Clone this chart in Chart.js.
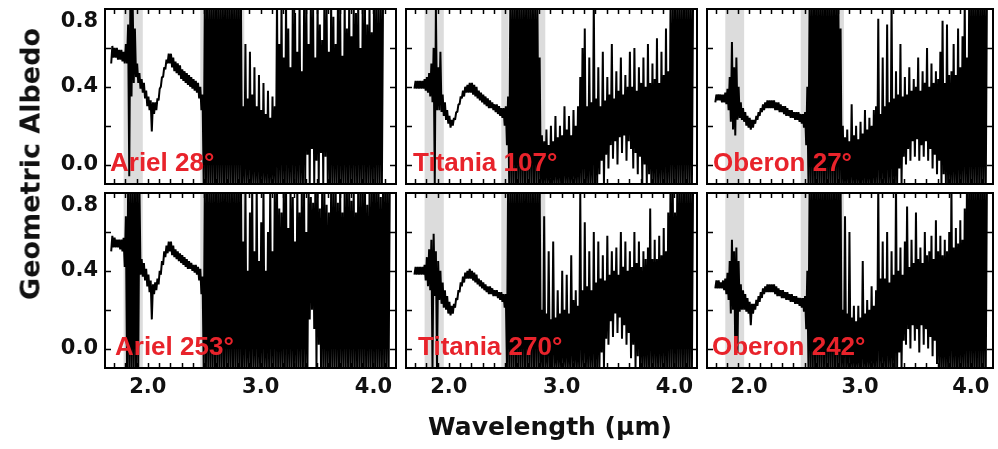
<!DOCTYPE html>
<html>
<head>
<meta charset="utf-8">
<script src="https://cdn.jsdelivr.net/npm/chart.js@4.4.1/dist/chart.umd.min.js"></script>
<style>
  html, body { margin: 0; padding: 0; background: #fff; }
  #figure { position: relative; width: 998px; height: 449px; overflow: hidden; background: #fff; }
  #figure canvas { position: absolute; left: 0; top: 0; }
  .axis-title { position: absolute; font-family: "DejaVu Sans", sans-serif; font-weight: bold; color: #111; white-space: nowrap; line-height: 1; }
  #ytitle { left: 30px; top: 164px; font-size: 27px; transform: translate(-50%, -50%) rotate(-90deg); }
  #xtitle { left: 550px; top: 426px; font-size: 25px; transform: translate(-50%, -50%); }
</style>
</head>
<body>
<div id="figure">
  <canvas id="p0" width="998" height="449"></canvas>
  <canvas id="p1" width="998" height="449"></canvas>
  <canvas id="p2" width="998" height="449"></canvas>
  <canvas id="p3" width="998" height="449"></canvas>
  <canvas id="p4" width="998" height="449"></canvas>
  <canvas id="p5" width="998" height="449"></canvas>
  <div class="axis-title" id="ytitle">Geometric Albedo</div>
  <div class="axis-title" id="xtitle">Wavelength (µm)</div>
</div>
<script>
// Spectral sampling: 0.02 µm bins from 1.62 to 4.20 µm (130 bins).
// For every bin the trace spans from LO to HI (geometric albedo); null = no data.
const WAVE_START = 1.62;
const WAVE_STEP = 0.02;
const WAVE_COUNT = 130;
const WAVE = Array.from({ length: WAVE_COUNT }, (_, i) => +(WAVE_START + i * WAVE_STEP).toFixed(2));

const _ = null;

// ---- Ariel, 28° ----
const ARIEL28_LO = [
  _,_,_,.52,.55,.55,.54,.54,.53,.52,
  .52,-.06,.35,.42,.45,.42,.39,.37,.34,.30,
  .28,.17,.26,.28,.33,.40,.45,.49,.52,.52,
  .50,.48,.47,.46,.44,.43,.42,.41,.40,.39,
  .38,.37,.34,.28,-.1,-.1,-.1,-.1,-.1,-.1,
  -.1,-.1,-.1,-.1,-.1,-.1,-.1,-.1,-.1,-.1,
  -.1,-.1,-.1,-.1,-.1,-.1,-.1,-.1,-.1,-.1,
  -.1,-.1,-.1,-.1,-.1,-.1,-.1,-.1,-.1,-.1,
  -.1,-.1,-.1,-.1,-.1,-.1,-.1,-.1,-.1,-.1,
  .05,-.1,.08,-.1,.02,-.1,.06,-.1,.04,-.1,
  -.1,-.1,-.1,-.1,-.1,-.1,-.1,-.1,-.1,-.1,
  -.1,-.1,-.1,-.1,-.1,-.1,-.1,-.1,-.1,-.1,
  -.1,-.1,-.1,-.1,_,_,_,_,_,_
];
const ARIEL28_HI = [
  _,_,_,.61,.60,.60,.59,.59,.58,.62,
  .72,.85,.85,.70,.52,.47,.44,.42,.38,.35,
  .33,.32,.32,.34,.39,.45,.50,.54,.57,.57,
  .55,.53,.52,.51,.49,.48,.47,.46,.45,.44,
  .43,.42,.40,.36,.85,.85,.85,.85,.85,.85,
  .85,.85,.85,.85,.85,.85,.85,.85,.85,.85,
  .85,.30,.62,.34,.58,.36,.50,.30,.46,.28,
  .42,.26,.38,.24,.35,.30,.85,.62,.85,.55,
  .85,.70,.50,.85,.78,.58,.85,.48,.80,.85,
  .62,.85,.80,.55,.85,.72,.64,.85,.80,.58,
  .85,.76,.62,.85,.82,.56,.85,.70,.85,.66,
  .85,.78,.85,.60,.85,.80,.72,.85,.68,.85,
  .85,.80,.85,.85,_,_,_,_,_,_
];

// ---- Titania, 107° ----
const TITANIA107_LO = [
  _,_,_,_,.39,.39,.39,.39,.39,.38,
  .37,.35,.32,-.1,.28,.28,.27,.25,.23,.21,
  .19,.20,.23,.27,.31,.34,.35,.37,.37,.37,
  .36,.35,.34,.33,.32,.31,.30,.29,.29,.28,
  .27,.26,.25,.24,.20,.10,-.1,-.1,-.1,-.1,
  -.1,-.1,-.1,-.1,-.1,-.1,-.1,-.1,-.1,-.1,
  -.1,-.1,-.1,-.1,-.1,-.1,-.1,-.1,-.1,-.1,
  -.1,-.1,-.1,-.1,-.1,-.1,-.1,-.1,-.1,-.1,
  -.1,-.1,-.1,-.1,-.1,-.1,-.05,.02,-.1,.05,
  -.02,.10,.03,.12,.00,.14,.06,.15,.02,.12,
  .08,-.02,.06,-.05,.04,-.1,.00,-.1,-.05,-.1,
  -.1,-.1,-.1,-.1,-.1,-.1,-.1,-.1,-.1,-.1,
  -.1,-.1,-.1,-.1,-.1,-.1,-.1,-.1,_,_
];
const TITANIA107_HI = [
  _,_,_,_,.43,.43,.43,.43,.44,.45,
  .47,.52,.60,.80,.50,.58,.36,.32,.28,.25,
  .23,.24,.27,.31,.35,.38,.40,.41,.42,.42,
  .41,.40,.38,.37,.36,.35,.34,.33,.32,.31,
  .31,.30,.29,.29,.30,.35,.85,.85,.85,.85,
  .85,.85,.85,.85,.85,.85,.85,.85,.85,.55,
  .15,.12,.18,.10,.20,.12,.25,.14,.20,.15,
  .30,.18,.25,.15,.28,.20,.30,.45,.60,.70,
  .30,.55,.32,.85,.34,.50,.30,.58,.33,.45,
  .36,.62,.34,.48,.38,.55,.36,.46,.40,.58,
  .40,.60,.38,.50,.42,.55,.40,.62,.42,.52,
  .44,.65,.42,.58,.46,.70,.48,.80,.85,.85,
  .85,.85,.85,.85,.85,.85,.85,.85,_,_
];

// ---- Oberon, 27° ----
const OBERON27_LO = [
  _,_,_,_,.32,.33,.33,.32,.32,.31,
  .28,.22,.18,.15,.23,.24,.23,.22,.20,.19,
  .18,.19,.21,.23,.25,.27,.28,.29,.29,.29,
  .29,.28,.28,.27,.27,.26,.25,.25,.24,.24,
  .23,.23,.22,.21,.19,.10,-.1,-.1,-.1,-.1,
  -.1,-.1,-.1,-.1,-.1,-.1,-.1,-.1,-.1,-.1,
  -.1,-.1,-.1,-.1,-.1,-.1,-.1,-.1,-.1,-.1,
  -.1,-.1,-.1,-.1,-.1,-.1,-.1,-.1,-.1,-.1,
  -.1,-.1,-.1,-.1,-.1,-.1,-.1,-.02,-.1,.04,
  .00,.08,.02,.12,.04,.13,.02,.10,.04,.12,
  .02,.08,-.02,.05,-.05,.02,-.1,-.05,-.1,-.1,
  -.1,-.1,-.1,-.1,-.1,-.1,-.1,-.1,-.1,-.1,
  -.1,-.1,-.1,-.1,-.1,-.1,-.1,_,_,_
];
const OBERON27_HI = [
  _,_,_,_,.36,.36,.36,.36,.37,.39,
  .45,.63,.50,.55,.40,.32,.29,.27,.25,.24,
  .23,.23,.25,.27,.29,.31,.32,.33,.33,.33,
  .33,.32,.32,.31,.30,.30,.29,.28,.28,.27,
  .27,.27,.26,.26,.27,.40,.85,.85,.85,.85,
  .85,.85,.85,.85,.85,.85,.85,.85,.85,.85,
  .70,.20,.14,.18,.12,.31,.15,.20,.13,.22,
  .16,.28,.18,.24,.20,.28,.30,.75,.26,.55,
  .30,.72,.32,.85,.34,.48,.36,.62,.35,.45,
  .36,.50,.38,.44,.40,.55,.38,.48,.42,.60,
  .40,.52,.42,.48,.44,.58,.74,.42,.72,.46,
  .48,.62,.46,.70,.50,.66,.85,.55,.85,.85,
  .85,.85,.85,.85,.85,.85,.85,_,_,_
];

// ---- Ariel, 253° ----
const ARIEL253_LO = [
  _,_,_,.50,.52,.52,.52,.51,.50,.42,
  -.1,-.1,-.1,-.1,-.1,-.1,.38,.37,.35,.32,
  .29,.15,.28,.30,.33,.38,.43,.47,.49,.50,
  .48,.47,.46,.45,.44,.43,.42,.41,.41,.40,
  .39,.38,.35,.28,-.1,-.1,-.1,-.1,-.1,-.1,
  -.1,-.1,-.1,-.1,-.1,-.1,-.1,-.1,-.1,-.1,
  -.1,-.1,-.1,-.1,-.1,-.1,-.1,-.1,-.1,-.1,
  -.1,-.1,-.1,-.1,-.1,-.1,-.1,-.1,-.1,-.1,
  -.1,-.1,-.1,-.1,-.1,-.1,-.1,-.1,-.1,-.1,
  -.1,.15,.20,.10,-.1,.02,-.1,-.1,-.1,-.1,
  -.1,-.1,-.1,-.1,-.1,-.1,-.1,-.1,-.1,-.1,
  -.1,-.1,-.1,-.1,-.1,-.1,-.1,-.1,-.1,-.1,
  -.1,-.1,-.1,-.1,-.1,-.1,-.1,_,_,_
];
const ARIEL253_HI = [
  _,_,_,.58,.57,.56,.56,.56,.57,.68,
  .85,.85,.85,.85,.85,.85,.46,.44,.41,.38,
  .35,.33,.34,.36,.40,.45,.50,.53,.55,.55,
  .53,.51,.50,.49,.48,.47,.46,.45,.44,.43,
  .43,.42,.41,.37,.85,.85,.85,.85,.85,.85,
  .85,.85,.85,.85,.85,.85,.85,.85,.85,.85,
  .85,.55,.85,.40,.70,.85,.50,.85,.45,.65,
  .85,.40,.60,.85,.50,.85,.85,.72,.70,.85,
  .85,.62,.85,.78,.55,.85,.70,.85,.80,.60,
  .85,.78,.75,.85,.85,.72,.80,.85,.74,.70,
  .85,.80,.85,.75,.85,.70,.85,.80,.85,.76,
  .85,.70,.85,.80,.85,.85,.74,.80,.85,.85,
  .85,.85,.78,.85,.85,.85,.85,_,_,_
];

// ---- Titania, 270° ----
const TITANIA270_LO = [
  _,_,_,_,.38,.38,.38,.38,.38,.35,
  .32,.30,-.1,.27,-.1,.25,.23,.21,.20,.18,
  .17,.18,.21,.25,.29,.32,.34,.36,.36,.36,
  .35,.34,.33,.32,.31,.30,.29,.28,.28,.27,
  .27,.26,.25,.24,.21,-.1,-.1,-.1,-.1,-.1,
  -.1,-.1,-.1,-.1,-.1,-.1,-.1,-.1,-.1,-.1,
  -.1,-.1,-.1,-.1,-.1,-.1,-.1,-.1,-.1,-.1,
  -.1,-.1,-.1,-.1,-.1,-.1,-.1,-.1,-.1,-.1,
  -.1,-.1,-.1,-.1,-.1,-.1,-.1,-.02,-.1,.05,
  .02,.14,.06,.18,.08,.16,.05,.12,.02,.08,
  -.05,.02,-.1,-.04,-.1,-.1,-.1,-.1,-.1,-.1,
  -.1,-.1,-.1,-.1,-.1,-.1,-.1,-.1,-.1,-.1,
  -.1,-.1,-.1,-.1,-.1,-.1,-.1,-.1,_,_
];
const TITANIA270_HI = [
  _,_,_,_,.42,.42,.42,.42,.43,.47,
  .51,.56,.59,.50,.45,.40,.34,.30,.27,.24,
  .22,.23,.26,.30,.34,.37,.39,.40,.41,.40,
  .39,.38,.36,.35,.34,.33,.32,.32,.31,.30,
  .30,.29,.29,.28,.28,.85,.85,.85,.85,.85,
  .85,.85,.85,.85,.85,.85,.85,.85,.85,.85,
  .20,.68,.18,.50,.15,.55,.16,.30,.18,.40,
  .20,.38,.18,.48,.25,.30,.22,.80,.30,.65,
  .32,.50,.30,.60,.34,.55,.36,.48,.35,.58,
  .38,.50,.40,.52,.38,.60,.42,.55,.40,.50,
  .42,.60,.44,.55,.42,.50,.46,.52,.72,.46,
  .56,.46,.58,.48,.62,.50,.70,.85,.85,.70,
  .85,.85,.85,.85,.85,.85,.85,.85,_,_
];

// ---- Oberon, 242° ----
const OBERON242_LO = [
  _,_,_,_,.31,.31,.31,.31,.30,.28,
  .25,.18,.20,-.02,-.02,.19,.20,.20,.19,.18,
  .12,.18,.20,.22,.24,.26,.28,.29,.29,.29,
  .29,.28,.27,.27,.26,.26,.25,.25,.24,.24,
  .23,.23,.22,.21,.19,.10,-.1,-.1,-.1,-.1,
  -.1,-.1,-.1,-.1,-.1,-.1,-.1,-.1,-.1,-.1,
  -.1,-.1,-.1,-.1,-.1,-.1,-.1,-.1,-.1,-.1,
  -.1,-.1,-.1,-.1,-.1,-.1,-.1,-.1,-.1,-.1,
  -.1,-.1,-.1,-.1,-.1,-.1,-.1,-.02,-.1,.04,
  .02,.10,.00,.12,.04,.10,-.02,.12,.02,.10,
  .00,.06,-.04,.04,-.08,-.1,-.1,-.1,-.1,-.1,
  -.1,-.1,-.1,-.1,-.1,-.1,-.1,-.1,-.1,-.1,
  -.1,-.1,-.1,-.1,-.1,-.1,-.1,_,_,_
];
const OBERON242_HI = [
  _,_,_,_,.35,.35,.34,.35,.36,.39,
  .45,.56,.50,.52,.45,.33,.30,.28,.26,.24,
  .23,.23,.25,.27,.29,.31,.32,.33,.33,.33,
  .33,.32,.31,.30,.30,.29,.29,.28,.28,.27,
  .27,.26,.26,.26,.27,.40,.85,.85,.85,.85,
  .85,.85,.85,.85,.85,.85,.85,.85,.85,.85,
  .85,.20,.68,.18,.60,.16,.22,.14,.22,.16,
  .45,.18,.25,.20,.32,.22,.30,.85,.36,.55,
  .36,.60,.34,.50,.38,.85,.40,.52,.38,.55,
  .73,.42,.56,.44,.70,.46,.52,.44,.60,.48,
  .50,.58,.46,.66,.50,.58,.48,.56,.50,.60,
  .85,.52,.62,.54,.66,.56,.72,.85,.85,.85,
  .85,.85,.85,.85,.85,.85,.85,_,_,_
];

// Shaded telluric / instrument-gap intervals (µm)
const SHADED_BANDS = [[1.785, 1.955], [2.465, 2.53], [2.79, 2.855]];

const Y_TICK_LABELS = [0.0, 0.4, 0.8];
const X_TICK_LABELS = [2.0, 3.0, 4.0];

const PANEL_NAMES = ['Ariel 28°', 'Titania 107°', 'Oberon 27°', 'Ariel 253°', 'Titania 270°', 'Oberon 242°'];
const PANEL_LO = [ARIEL28_LO, TITANIA107_LO, OBERON27_LO, ARIEL253_LO, TITANIA270_LO, OBERON242_LO];
const PANEL_HI = [ARIEL28_HI, TITANIA107_HI, OBERON27_HI, ARIEL253_HI, TITANIA270_HI, OBERON242_HI];

// Layout of the 2 x 3 grid (pixel edges of each plotting frame)
const COLS = [[105, 396], [406, 697], [707, 993]];
const ROWS = [[9, 184], [193, 368]];
const NAME_OFFSET = [5, 7, 6, 10, 12, 5];

// Each bin becomes an up-stroke (lo -> hi) so the trace reads as a dense noisy spectrum.
function buildTrace(lo, hi) {
  const half = WAVE_STEP / 4;
  const pts = [];
  WAVE.forEach((w, i) => {
    if (lo[i] === null || hi[i] === null) return;
    pts.push({ x: w - half, y: lo[i] }, { x: w + half, y: hi[i] });
  });
  return pts;
}

const frameDecor = {
  id: 'frameDecor',
  beforeDatasetsDraw(chart, args, opts) {
    const { ctx, chartArea: a, scales: { x } } = chart;
    ctx.save();
    ctx.fillStyle = '#dcdcdc';
    SHADED_BANDS.forEach(([w0, w1]) => {
      const p0 = x.getPixelForValue(w0), p1 = x.getPixelForValue(w1);
      ctx.fillRect(p0, a.top, p1 - p0, a.bottom - a.top);
    });
    ctx.restore();
  },
  afterDatasetsDraw(chart, args, opts) {
    const { ctx, chartArea: a, scales: { x, y } } = chart;
    ctx.save();
    // inward ticks on all four sides
    ctx.strokeStyle = '#000';
    ctx.lineWidth = 1.5;
    ctx.beginPath();
    for (let k = 17; k <= 41; k++) {
      const px = Math.round(x.getPixelForValue(k / 10)) + 0.5;
      if (px <= a.left + 2 || px >= a.right - 2) continue;
      ctx.moveTo(px, a.bottom); ctx.lineTo(px, a.bottom - 5);
      ctx.moveTo(px, a.top); ctx.lineTo(px, a.top + 5);
    }
    for (let k = 0; k <= 3; k++) {
      const py = Math.round(y.getPixelForValue(k * 0.2)) + 0.5;
      ctx.moveTo(a.left, py); ctx.lineTo(a.left + 6, py);
      ctx.moveTo(a.right, py); ctx.lineTo(a.right - 6, py);
    }
    ctx.stroke();
    // frame
    ctx.lineWidth = 2;
    ctx.strokeRect(a.left, a.top, a.right - a.left, a.bottom - a.top);

    // y tick labels (left column only)
    ctx.fillStyle = '#111';
    ctx.font = 'bold 21px "DejaVu Sans"';
    if (opts.yLabels) {
      ctx.textAlign = 'right';
      ctx.textBaseline = 'middle';
      Y_TICK_LABELS.forEach(v => {
        const py = Math.max(y.getPixelForValue(v), a.top + 13);
        ctx.fillText(v.toFixed(1), a.left - 7, py);
      });
    }
    // x tick labels (bottom row only)
    if (opts.xLabels) {
      ctx.textAlign = 'center';
      ctx.textBaseline = 'middle';
      X_TICK_LABELS.forEach(v => {
        ctx.fillText(v.toFixed(1), x.getPixelForValue(v), a.bottom + 20);
      });
    }
    // panel name
    ctx.fillStyle = '#e8232b';
    ctx.font = 'bold 26px "Liberation Sans", Arial, sans-serif';
    ctx.textAlign = 'left';
    ctx.textBaseline = 'alphabetic';
    ctx.fillText(opts.name, a.left + opts.nameOffset, a.bottom - 13);
    ctx.restore();
  }
};

PANEL_NAMES.forEach((name, i) => {
  const col = COLS[i % 3], row = ROWS[Math.floor(i / 3)];
  new Chart(document.getElementById('p' + i), {
    type: 'line',
    data: {
      datasets: [{
        data: buildTrace(PANEL_LO[i], PANEL_HI[i]),
        borderColor: '#000',
        borderWidth: 2,
        borderJoinStyle: 'bevel',
        pointRadius: 0,
        tension: 0,
        fill: false,
        clip: 0
      }]
    },
    options: {
      responsive: false,
      animation: false,
      events: [],
      layout: { padding: { left: col[0], right: 998 - col[1], top: row[0], bottom: 449 - row[1] } },
      scales: {
        x: { type: 'linear', min: 1.62, max: 4.2, display: false },
        y: { type: 'linear', min: -0.1, max: 0.8, display: false }
      },
      plugins: {
        legend: { display: false },
        tooltip: { enabled: false },
        frameDecor: { name, nameOffset: NAME_OFFSET[i], yLabels: i % 3 === 0, xLabels: i >= 3 }
      }
    },
    plugins: [frameDecor]
  });
});
</script>
</body>
</html>
